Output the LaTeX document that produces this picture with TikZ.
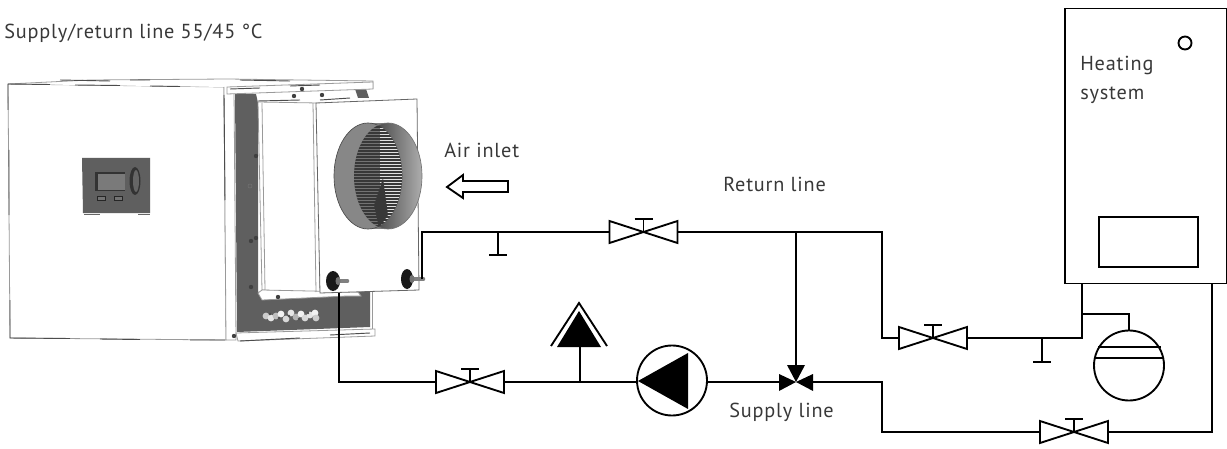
\documentclass[tikz,border=0pt]{standalone}
\usepackage{fontspec}
\setmainfont[LetterSpace=4]{PT Sans}
\usetikzlibrary{calc}
\definecolor{ink}{HTML}{000000}
\definecolor{txt}{HTML}{383838}
\definecolor{metal}{HTML}{5F5F5F}
\definecolor{edge}{HTML}{9A9A9A}
\tikzset{
  x=0.75pt,y=-0.75pt,
  pipe/.style={draw=ink,line width=1.4pt,line join=miter},
  thin symbol/.style={draw=ink,line width=1.4pt,fill=white},
  label text/.style={anchor=base west,inner sep=0pt,font=\fontsize{15.2pt}{17pt}\selectfont,text=txt},
  casing/.style={draw=edge,line width=0.6pt,fill=white},
  rough/.style={draw=black!70,line width=0.7pt},
  valve/.pic={
    \draw[thin symbol,line join=miter] (-34,-11) -- (34,11) -- (34,-11) -- (-34,11) -- cycle;
    \draw[pipe] (0,0) -- (0,-13) (-9,-13) -- (9,-13);
    \coordinate (-l) at (-34,0);
    \coordinate (-r) at (34,0);
  },
  stub/.pic={
    \draw[pipe] (0,0) -- (0,23) (-9,23) -- (9,23);
  }
}
\begin{document}
\begin{tikzpicture}
\useasboundingbox (0,0) rectangle (1227,449);

% ---- heat pump casing
\draw[casing] (8,84) -- (224,87) -- (226,340) -- (10,338) -- cycle;
\draw[casing] (8,84) -- (90,80) -- (228,79) -- (373,81) -- (373,89);
\draw[casing] (224,87) -- (226,340) -- (236,340) -- (234,88);
\fill[metal] (235,94) -- (256,94) -- (258,103) -- (258,292) -- (370,291) -- (370,327) -- (237,332) -- cycle;
\fill[metal] (355,89) -- (366,89) -- (369,98) -- (358,98) -- cycle;
\draw[casing] (227,87) -- (373,82) -- (373,89) -- (227,94) -- cycle;
\draw[casing] (236,333) -- (375,329) -- (375,336) -- (238,341) -- cycle;
\draw[casing,fill=none] (372,291) -- (372,329);
\draw[casing,fill=white] (258,102) -- (318,103) -- (320,293) -- (262,290) -- cycle;
\draw[casing,fill=white] (262,290) -- (258,293) -- (262,300) -- (347,296) -- (361,296) -- (358,292) -- cycle;
\draw[casing,fill=none] (262,103) -- (265,290);
% rough dark edge pieces
\draw[rough] (8,84) -- (8,110) (8,84) -- (50,84.5) (75,85) -- (120,85.5) (150,86) -- (180,86.5);
\draw[rough] (60,80) -- (110,81) (130,80) -- (150,80) (240,80) -- (290,81);
\draw[rough] (9,150) -- (9,215) (10,300) -- (10,338) -- (70,338.5) (100,339) -- (140,339.5) (190,340) -- (225,340);
\draw[rough] (224,95) -- (225,200);
\draw[rough] (230,89) -- (260,88) (290,86) -- (320,85) (258,101) -- (300,100) (320,100) -- (350,98);
\draw[rough] (240,341) -- (300,338) (330,335) -- (370,333);
% front sheet
\draw[casing,draw=black!60] (316,103) -- (417,99) -- (419,290) -- (320,293) -- cycle;
\draw[casing,fill=none] (313,103) -- (316,292);
% bolts
\foreach \px/\py in {256/156, 256/238, 251/241, 251/287, 234/336, 294/96, 302/89, 322/95, 278/297}
  \fill[black!75] (\px,\py) circle (2.2);
\draw[black!55,line width=0.4pt] (250,186) circle (2);
% control panel
\fill[metal] (82,158) -- (150,158) -- (150,213) -- (83,213) -- cycle;
\draw[black!60,line width=0.5pt] (84,214) -- (100,214) (138,214) -- (150,214);
\fill[black!80] (95,172) rectangle (125,191);
\fill[black!52] (98,174) rectangle (125,190);
\fill[black!80] (135,181) ellipse (5.5 and 14);
\fill[black!60] (136,181) ellipse (3 and 11);
\draw[black!85,fill=black!55,line width=0.4pt] (97,196.5) rectangle (105,200.5);
\draw[black!85,fill=black!55,line width=0.4pt] (114,196.5) rectangle (122,200.5);
% label plate in the grey band
\foreach \px/\py/\q in {266/316/20, 271/318/10, 276/316/25, 281/314/5, 286/319/15, 291/313/10, 296/317/30, 301/314/5, 305/318/15, 310/315/10, 315/313/5, 316/318/20}{
  \fill[white!\the\numexpr100-\q\relax!black] (\px,\py) ellipse (3.4 and 3.4);
}
\foreach \px/\py in {270/314, 279/318, 289/316, 299/319, 308/313}
  \fill[black!70] (\px,\py) circle (1.3);
% duct
\fill[black!50] (368,123) rectangle (388,229);
\shade[left color=black!90,right color=black!32,draw=black!55,line width=0.5pt] (388,176) ellipse (34 and 53);
\fill[black!47] (368,176) ellipse (34 and 53);
\draw[black!70,line width=0.5pt] (368,176) ellipse (34 and 53);
\begin{scope}
  \clip (368,176) ellipse (34 and 53);
  \clip (388,176) ellipse (34 and 53);
  \fill[black!78] (350,120) rectangle (405,232);
  \foreach \k in {0,...,34}
    \draw[white,line width=0.6pt,opacity=0.85] (380,125+3*\k) -- (403,125+3*\k);
  \foreach \k in {0,...,34}
    \draw[black!20,line width=0.4pt,opacity=0.4] (354,125+3*\k) -- (380,125+3*\k);
  \fill[black!78] (379,228) -- (374,205) -- (383,178) -- (388,215) -- cycle;
\end{scope}
% fittings
\draw[black!50,line width=3.5pt,line cap=round] (335,281) -- (347,281);
\fill[black!90] (333,281) ellipse (7 and 10);
\fill[black!55] (338,281) ellipse (2.5 and 4);
\draw[black!50,line width=3.5pt,line cap=round] (409,279) -- (423,279);
\fill[black!90] (407,279) ellipse (6 and 10);
\fill[black!55] (412,279) ellipse (2.5 and 4);

% ---- named points
\coordinate (retOut) at (422,279);
\coordinate (retCorner) at (422,232);
\coordinate (tee) at (796,232);
\coordinate (retTurn) at (882,232);
\coordinate (v2Turn) at (882,338);
\coordinate (riser) at (1082,338);
\coordinate (boilerL) at (1082,284);
\coordinate (tankTap) at (1082,314);
\coordinate (tankTurn) at (1129,314);
\coordinate (mixL) at (779,382);
\coordinate (mixR) at (813,382);
\coordinate (mixT) at (796,367);
\coordinate (pumpE) at (707,382);
\coordinate (pumpW) at (637,382);
\coordinate (supTurn) at (882,382);
\coordinate (supLow) at (882,432);
\coordinate (rCorner) at (1212,432);
\coordinate (boilerR) at (1212,284);
\coordinate (supOut) at (339,293);
\coordinate (supCorner) at (339,382);
\coordinate (ventFoot) at (580,382);
\coordinate (ventTop) at (580,347);

% ---- valves
\pic (v1) at (643.5,232) {valve};
\pic (v2) at (933,338) {valve};
\pic (v3) at (1074,432) {valve};
\pic (v4) at (470,382) {valve};
\pic at (498,232) {stub};
\pic at (1042,339) {stub};

% ---- boiler
\node[draw=ink,line width=1.4pt,minimum width=161.5*0.75pt,minimum height=275*0.75pt,inner sep=0pt,outer sep=0pt] (boiler) at (1145.75,146) {};
\node[draw=ink,line width=1.4pt,minimum width=99*0.75pt,minimum height=50*0.75pt,inner sep=0pt] (burner) at (1148.5,242) {};
\node[draw=ink,line width=1.4pt,circle,minimum size=13*0.75pt,inner sep=0pt] (gauge) at (1185,43) {};

% ---- tank
\node[draw=ink,line width=1.4pt,circle,minimum size=70*0.75pt,inner sep=0pt,outer sep=0pt] (tank) at (1129,365.5) {};
\draw[pipe] (1098,347) -- (1161,347);
\draw[pipe] (1095,358) -- (1163,358);

% ---- pump
\node[draw=ink,line width=1.4pt,circle,minimum size=70*0.75pt,inner sep=0pt,outer sep=0pt] (pump) at (672,380.5) {};
\fill[ink] (638,381) -- (688,353) -- (688,409) -- cycle;

% ---- vent
\fill[ink] (579,311) -- (601,347) -- (557,347) -- cycle;
\draw[pipe] (551,346) -- (579,303) -- (607,346);

% ---- mixer
\fill[ink] (796,382) -- (787,365) -- (805,365) -- cycle;
\fill[ink] (796,382) -- (779,374) -- (779,391) -- cycle;
\fill[ink] (796,382) -- (813,374) -- (813,391) -- cycle;

% ---- pipes
\draw[pipe] (retOut) -- (retCorner) -- (v1-l);
\draw[pipe] (v1-r) -- (retTurn) -- (v2Turn) -- (v2-l);
\draw[pipe] (v2-r) -- (riser) -- (boilerL);
\draw[pipe] (tankTap) -- (tankTurn) -- (tank.north);
\draw[pipe,line width=1.8pt] (tee) -- (mixT);
\draw[pipe] (mixL) -- (pumpE);
\draw[pipe] (mixR) -- (supTurn) -- (supLow) -- (v3-l);
\draw[pipe] (v3-r) -- (rCorner) -- (boilerR);
\draw[pipe] (supOut) -- (supCorner) -- (v4-l);
\draw[pipe] (v4-r) -- (pumpW);
\draw[pipe] (ventFoot) -- (ventTop);

% ---- air arrow
\draw[ink,line width=1.4pt,line join=miter,fill=white] (447,187) -- (463,175) -- (463,181) -- (508,181) -- (508,192) -- (463,192) -- (463,198) -- cycle;

% ---- texts
\node[label text] (t1) at (4,39) {Supply/return line 55/45 °C};
\node[label text] (t2) at (444,158) {Air inlet};
\node[label text] (t3) at (723,191) {Return line};
\node[label text] (t4) at (729,417) {Supply line};
\node[label text] (t5) at (1080,71) {Heating};
\node[label text] (t6) at (1080,100) {system};
\end{tikzpicture}
\end{document}
